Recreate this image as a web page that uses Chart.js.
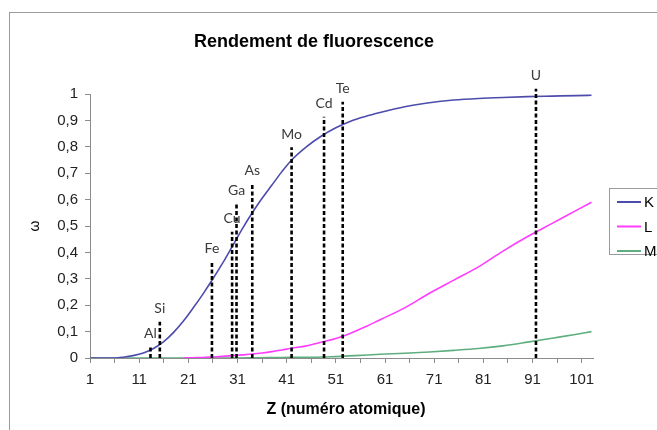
<!DOCTYPE html>
<html>
<head>
<meta charset="utf-8">
<script src="https://cdn.jsdelivr.net/npm/chart.js@4/dist/chart.umd.min.js"></script>
<style>
  body { margin: 0; background: #fff; }
  #wrap { width: 657px; height: 430px; }
</style>
</head>
<body>
<div id="wrap"><canvas id="c" width="657" height="430"></canvas></div>
<script>
// fluorescence yield per shell, read against atomic number Z
var zK = [1, 6, 8, 10, 12, 14, 16, 18, 20, 22, 24, 26, 28, 30, 32, 34, 36, 38, 40, 42, 45, 48, 51, 54, 57, 60, 65, 70, 75, 80, 85, 90, 95, 100, 103];
var omegaK = [0, 0, 0.004, 0.01, 0.02, 0.037, 0.062, 0.097, 0.14, 0.19, 0.243, 0.3, 0.36, 0.425, 0.49, 0.55, 0.605, 0.655, 0.705, 0.75, 0.8, 0.84, 0.872, 0.897, 0.915, 0.93, 0.952, 0.967, 0.977, 0.983, 0.987, 0.99, 0.992, 0.994, 0.995];

var zL = [20, 22, 24, 26, 28, 30, 32, 34, 36, 38, 40, 42, 45, 48, 51, 54, 57, 60, 65, 70, 75, 80, 85, 90, 95, 100, 103];
var omegaL = [0, 0.001, 0.002, 0.004, 0.006, 0.009, 0.012, 0.015, 0.019, 0.024, 0.03, 0.037, 0.046, 0.06, 0.074, 0.094, 0.118, 0.145, 0.19, 0.245, 0.295, 0.345, 0.405, 0.46, 0.51, 0.56, 0.59];

var zM = [1, 10, 20, 30, 35, 40, 45, 50, 55, 60, 65, 70, 75, 80, 85, 90, 95, 100, 103];
var omegaM = [0, 0, 0, 0, 0.001, 0.002, 0.003, 0.005, 0.009, 0.014, 0.018, 0.023, 0.029, 0.036, 0.046, 0.06, 0.075, 0.09, 0.1];

var shellNames = ['K', 'L', 'M'];

// marked elements: symbol, position on the Z axis, height of the marker
var elemNames = ['Al', 'Si', 'Fe', 'Cu', 'Ga', 'As', 'Mo', 'Cd', 'Te', 'U'];
var elemZ = [13.3, 15.2, 25.8, 29.9, 30.8, 34, 42, 48.6, 52.4, 91.7];
var elemTop = [0.043, 0.137, 0.365, 0.478, 0.586, 0.662, 0.798, 0.914, 0.971, 1.02];

var zTicks = [1, 6, 11, 16, 21, 26, 31, 36, 41, 46, 51, 56, 61, 66, 71, 76, 81, 86, 91, 96, 101];

var shellColors = ['#4c4cac', '#ff3cff', '#5fae80'];

function pts(xs, ys) {
  return xs.map(function (x, i) { return { x: x, y: ys[i] }; });
}

var datasets = [
  { label: 'K', data: pts(zK, omegaK) },
  { label: 'L', data: pts(zL, omegaL) },
  { label: 'M', data: pts(zM, omegaM) }
].map(function (d, i) {
  d.borderColor = shellColors[i];
  d.borderWidth = 1.6;
  d.pointRadius = 0;
  d.cubicInterpolationMode = 'monotone';
  d.order = 2;
  return d;
});

elemNames.forEach(function (name, i) {
  datasets.push({
    label: name,
    data: [{ x: elemZ[i], y: 0 }, { x: elemZ[i], y: elemTop[i] }],
    borderColor: '#000',
    borderWidth: 2.6,
    borderDash: [4, 2.5],
    pointRadius: 0,
    clip: false,
    order: 1
  });
});

var axisGrey = '#8c8c8c';

var decor = {
  id: 'decor',
  beforeDraw: function (chart) {
    var ctx = chart.ctx;
    ctx.save();
    ctx.fillStyle = '#fff';
    ctx.fillRect(0, 0, chart.width, chart.height);
    ctx.strokeStyle = '#9a9a9a';
    ctx.lineWidth = 1;
    ctx.strokeRect(9.5, 12.5, 700, 500);
    ctx.fillStyle = '#000';
    ctx.font = 'bold 18px "Liberation Sans", Arial, sans-serif';
    ctx.textAlign = 'center';
    ctx.textBaseline = 'middle';
    ctx.fillText('Rendement de fluorescence', 314, 42);
    ctx.restore();
  },
  afterDraw: function (chart) {
    var ctx = chart.ctx;
    var xs = chart.scales.x, ys = chart.scales.y;
    ctx.save();

    // element symbols above their markers
    ctx.fillStyle = '#3a3a3a';
    ctx.font = '14px Lato, "Open Sans", sans-serif';
    ctx.textAlign = 'center';
    ctx.textBaseline = 'middle';
    elemNames.forEach(function (name, i) {
      ctx.fillText(name, xs.getPixelForValue(elemZ[i]), ys.getPixelForValue(elemTop[i]) - 13);
    });

    // axis titles
    ctx.fillStyle = '#000';
    ctx.font = 'bold 16px "Liberation Sans", Arial, sans-serif';
    ctx.fillText('Z (numéro atomique)', 346, 410);
    ctx.translate(35, 226);
    ctx.rotate(-Math.PI / 2);
    ctx.font = '14px "Liberation Sans", Arial, sans-serif';
    ctx.fillText('ω', 0, 0);
    ctx.setTransform(1, 0, 0, 1, 0, 0);

    // boxed legend
    ctx.strokeStyle = '#9a9a9a';
    ctx.lineWidth = 1;
    ctx.strokeRect(609.5, 188.5, 80, 66);
    ctx.font = '15px "Liberation Sans", Arial, sans-serif';
    ctx.textAlign = 'left';
    shellNames.forEach(function (name, i) {
      var y = 202 + i * 24.5;
      ctx.strokeStyle = shellColors[i];
      ctx.lineWidth = 2;
      ctx.beginPath();
      ctx.moveTo(617, y);
      ctx.lineTo(641, y);
      ctx.stroke();
      ctx.fillStyle = '#000';
      ctx.fillText(name, 644, y + 1);
    });
    ctx.restore();
  }
};

new Chart(document.getElementById('c').getContext('2d'), {
  type: 'line',
  data: { datasets: datasets },
  options: {
    responsive: false,
    animation: false,
    layout: { padding: { left: 0, top: 94, right: 64, bottom: 0 } },
    plugins: { legend: { display: false }, tooltip: { enabled: false } },
    scales: {
      x: {
        type: 'linear',
        min: 1,
        max: 103.3,
        afterBuildTicks: function (scale) {
          scale.ticks = zTicks.map(function (v) { return { value: v }; });
        },
        afterFit: function (scale) { scale.height = 72; },
        grid: { drawOnChartArea: false, tickLength: 5, color: axisGrey },
        border: { color: axisGrey },
        ticks: {
          autoSkip: false,
          maxRotation: 0,
          padding: 8,
          color: '#222',
          font: { family: '"Liberation Sans", Arial, sans-serif', size: 15 },
          callback: function (v) { return (v - 1) % 10 === 0 ? String(v) : ''; }
        }
      },
      y: {
        min: 0,
        max: 1,
        afterFit: function (scale) { scale.width = 90; },
        grid: { drawOnChartArea: false, tickLength: 5, color: axisGrey },
        border: { color: axisGrey },
        ticks: {
          stepSize: 0.1,
          padding: 7,
          color: '#222',
          font: { family: '"Liberation Sans", Arial, sans-serif', size: 15 },
          callback: function (v) {
            var r = Math.round(v * 10) / 10;
            return (r === 0 || r === 1) ? String(r) : r.toFixed(1).replace('.', ',');
          }
        }
      }
    }
  },
  plugins: [decor]
});
</script>
</body>
</html>
